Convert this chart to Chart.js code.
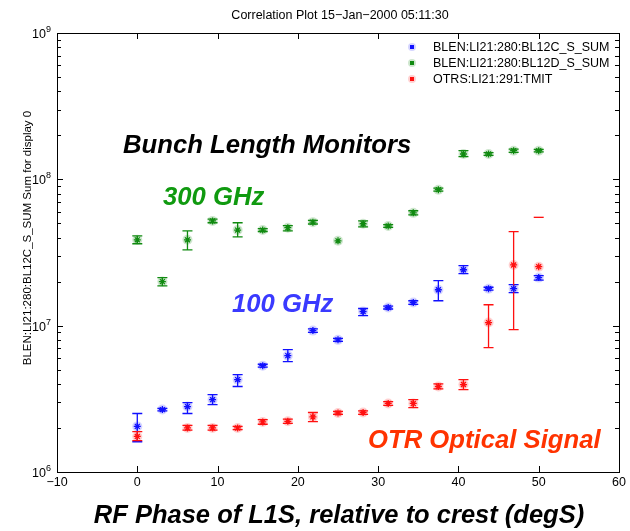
<!DOCTYPE html>
<html>
<head>
<meta charset="utf-8">
<script src="https://cdn.jsdelivr.net/npm/chart.js@4.4.1/dist/chart.umd.min.js"></script>
<style>
  body { margin: 0; background: #fff; }
  #wrap { width: 630px; height: 531px; }
</style>
</head>
<body>
<div id="wrap"><canvas id="myChart" width="630" height="531"></canvas></div>
<script>
// RF phase (degS)
const fase = [0, 3.125, 6.25, 9.375, 12.5, 15.625, 18.75, 21.875, 25, 28.125, 31.25, 34.375, 37.5, 40.625, 43.75, 46.875, 50];

// BLEN:LI21:280:BL12C_S_SUM (100 GHz)
const bl12c   = [2.05e6, 2.67e6, 2.8e6, 3.12e6, 4.28e6, 5.33e6, 6.24e6, 9.25e6, 8.0e6, 1.25e7, 1.33e7, 1.44e7, 1.76e7, 2.41e7, 1.79e7, 1.79e7, 2.13e7];
const bl12cLo = [1.61e6, 2.62e6, 2.51e6, 2.89e6, 3.84e6, 5.2e6, 5.68e6, 9.0e6, 7.8e6, 1.17e7, 1.3e7, 1.4e7, 1.48e7, 2.27e7, 1.75e7, 1.68e7, 2.05e7];
const bl12cHi = [2.51e6, 2.72e6, 2.98e6, 3.38e6, 4.63e6, 5.45e6, 6.86e6, 9.5e6, 8.2e6, 1.31e7, 1.36e7, 1.48e7, 2.03e7, 2.57e7, 1.83e7, 1.91e7, 2.2e7];

// BLEN:LI21:280:BL12D_S_SUM (300 GHz)
const bl12d   = [3.86e7, 2.0e7, 3.86e7, 5.2e7, 4.5e7, 4.5e7, 4.67e7, 5.1e7, 3.8e7, 4.97e7, 4.8e7, 5.9e7, 8.5e7, 1.49e8, 1.49e8, 1.57e8, 1.57e8];
const bl12dLo = [3.63e7, 1.87e7, 3.30e7, 5.05e7, 4.05e7, 4.4e7, 4.45e7, 4.95e7, null, 4.74e7, 4.7e7, 5.72e7, 8.3e7, 1.43e8, 1.46e8, 1.53e8, 1.54e8];
const bl12dHi = [4.11e7, 2.13e7, 4.45e7, 5.35e7, 5.05e7, 4.6e7, 4.82e7, 5.25e7, null, 5.2e7, 4.9e7, 6.1e7, 8.7e7, 1.57e8, 1.52e8, 1.61e8, 1.6e8];

// OTRS:LI21:291:TMIT
const otr   = [1.75e6, null, 2.0e6, 2.0e6, 2.0e6, 2.2e6, 2.22e6, 2.38e6, 2.53e6, 2.55e6, 2.94e6, 2.94e6, 3.84e6, 3.96e6, 1.05e7, 2.6e7, 2.53e7];
const otrLo = [1.64e6, null, 1.93e6, 1.93e6, 1.95e6, 2.12e6, 2.15e6, 2.21e6, 2.48e6, 2.48e6, 2.85e6, 2.75e6, 3.7e6, 3.66e6, 7.08e6, 9.4e6, null];
const otrHi = [1.89e6, null, 2.08e6, 2.08e6, 2.05e6, 2.28e6, 2.3e6, 2.55e6, 2.6e6, 2.62e6, 3.03e6, 3.12e6, 4.0e6, 4.28e6, 1.39e7, 4.39e7, 5.5e7];

const xTicks = [-10, 0, 10, 20, 30, 40, 50, 60];
const yDecadas = [6, 7, 8, 9];

const nombres = ["BLEN:LI21:280:BL12C_S_SUM", "BLEN:LI21:280:BL12D_S_SUM", "OTRS:LI21:291:TMIT"];
const colores = ["#1010ff", "#108a10", "#ff1010"];
const halos = ["rgba(60,60,255,0.22)", "rgba(30,140,30,0.22)", "rgba(255,40,40,0.22)"];

const fuente = "'Liberation Sans Narrow', 'Liberation Sans', Arial, sans-serif";

function puntos(vals, lo, hi) {
  return fase.map((x, i) => ({ x: x, y: vals[i], lo: lo[i], hi: hi[i] }));
}

// error bars, halos, axes box, ticks and all the text
const dibujo = {
  id: 'dibujo',
  beforeDatasetsDraw(chart) {
    const ctx = chart.ctx;
    const sx = chart.scales.x, sy = chart.scales.y;
    ctx.save();
    chart.data.datasets.forEach((ds, k) => {
      ds.data.forEach(p => {
        if (p.y == null) return;
        const px = sx.getPixelForValue(p.x);
        const py = sy.getPixelForValue(p.y);
        ctx.fillStyle = halos[k];
        ctx.beginPath();
        ctx.arc(px, py, 5, 0, Math.PI * 2);
        ctx.fill();
        ctx.strokeStyle = colores[k];
        ctx.lineWidth = 1.3;
        ctx.beginPath();
        if (p.hi != null) {
          const yh = sy.getPixelForValue(p.hi);
          ctx.moveTo(px - 5, yh); ctx.lineTo(px + 5, yh);
          if (p.lo != null) {
            const yl = sy.getPixelForValue(p.lo);
            ctx.moveTo(px - 5, yl); ctx.lineTo(px + 5, yl);
            ctx.moveTo(px, yh); ctx.lineTo(px, yl);
          }
        }
        ctx.stroke();
      });
    });
    ctx.restore();
  },
  afterDraw(chart) {
    const ctx = chart.ctx;
    const a = chart.chartArea;
    const sx = chart.scales.x, sy = chart.scales.y;
    ctx.save();
    ctx.strokeStyle = "#000";
    ctx.lineWidth = 1;
    ctx.strokeRect(Math.round(a.left) + 0.5, Math.round(a.top) + 0.5, Math.round(a.right - a.left), Math.round(a.bottom - a.top));

    // x ticks (inward, top and bottom)
    ctx.beginPath();
    xTicks.forEach(v => {
      const px = Math.round(sx.getPixelForValue(v)) + 0.5;
      ctx.moveTo(px, a.bottom); ctx.lineTo(px, a.bottom - 6);
      ctx.moveTo(px, a.top); ctx.lineTo(px, a.top + 6);
    });
    // y ticks, log major + minor
    yDecadas.forEach(d => {
      for (let m = 1; m <= 9; m++) {
        if (d === 9 && m > 1) break;
        const py = Math.round(sy.getPixelForValue(m * Math.pow(10, d))) + 0.5;
        const len = m === 1 ? 6 : 4;
        ctx.moveTo(a.left, py); ctx.lineTo(a.left + len, py);
        ctx.moveTo(a.right, py); ctx.lineTo(a.right - len, py);
      }
    });
    ctx.stroke();

    ctx.fillStyle = "#000";
    ctx.font = "12.5px " + fuente;
    ctx.textAlign = "center";
    ctx.textBaseline = "alphabetic";
    xTicks.forEach(v => {
      const px = sx.getPixelForValue(v);
      ctx.fillText(v < 0 ? "\u2212" + Math.abs(v) : String(v), px, a.bottom + 14);
    });
    yDecadas.forEach(d => {
      const py = sy.getPixelForValue(Math.pow(10, d));
      ctx.font = "12.5px " + fuente;
      ctx.textAlign = "right";
      ctx.fillText("10", a.left - 11, py + 5);
      ctx.font = "9px " + fuente;
      ctx.textAlign = "left";
      ctx.fillText(String(d), a.left - 11, py - 1);
    });

    // title
    ctx.font = "12.5px " + fuente;
    ctx.textAlign = "center";
    ctx.fillText("Correlation Plot 15\u2212Jan\u22122000 05:11:30", 340, 19);

    // y axis title
    ctx.save();
    ctx.translate(31, 238);
    ctx.rotate(-Math.PI / 2);
    ctx.font = "11.5px " + fuente;
    ctx.fillText("BLEN:LI21:280:BL12C_S_SUM Sum for display 0", 0, 0);
    ctx.restore();

    // legend
    ctx.font = "12.5px " + fuente;
    ctx.textAlign = "left";
    nombres.forEach((n, k) => {
      const y = 47 + k * 16;
      ctx.fillStyle = halos[k];
      ctx.beginPath(); ctx.arc(412, y, 4, 0, Math.PI * 2); ctx.fill();
      ctx.fillStyle = colores[k];
      ctx.fillRect(410, y - 2, 4, 4);
      ctx.fillStyle = "#000";
      ctx.fillText(n, 433, y + 4);
    });

    // annotations
    ctx.font = "italic bold 25.7px 'Liberation Sans', Arial, sans-serif";
    ctx.textAlign = "left";
    ctx.fillStyle = "#000";
    ctx.fillText("Bunch Length Monitors", 123, 153);
    ctx.fillStyle = "#109a10";
    ctx.fillText("300 GHz", 163, 205);
    ctx.fillStyle = "#3a3aff";
    ctx.fillText("100 GHz", 232, 312);
    ctx.fillStyle = "#ff3300";
    ctx.fillText("OTR Optical Signal", 368, 448);
    ctx.fillStyle = "#000";
    ctx.textAlign = "center";
    ctx.font = "italic bold 25.5px 'Liberation Sans', Arial, sans-serif";
    ctx.fillText("RF Phase of L1S, relative to crest (degS)", 339, 523);
    ctx.restore();
  }
};

const ctx = document.getElementById("myChart").getContext("2d");
const myChart = new Chart(ctx, {
  type: "scatter",
  data: {
    datasets: [
      { label: nombres[0], data: puntos(bl12c, bl12cLo, bl12cHi) },
      { label: nombres[1], data: puntos(bl12d, bl12dLo, bl12dHi) },
      { label: nombres[2], data: puntos(otr, otrLo, otrHi) },
    ].map((d, k) => Object.assign(d, {
      pointStyle: "star",
      pointRadius: 3.5,
      pointHoverRadius: 3.5,
      pointBorderWidth: 1.3,
      borderColor: colores[k],
      backgroundColor: colores[k],
      showLine: false,
    })),
  },
  plugins: [dibujo],
  options: {
    responsive: false,
    animation: false,
    events: [],
    layout: { padding: { top: 33, right: 11, left: 0, bottom: 0 } },
    plugins: { legend: { display: false }, tooltip: { enabled: false } },
    scales: {
      x: {
        type: "linear",
        min: -10,
        max: 60,
        grid: { display: false },
        border: { display: false },
        ticks: { display: false },
        afterFit: s => { s.height = 59; },
      },
      y: {
        type: "logarithmic",
        min: 1e6,
        max: 1e9,
        grid: { display: false },
        border: { display: false },
        ticks: { display: false },
        afterFit: s => { s.width = 57; },
      },
    },
  },
});
</script>
</body>
</html>
